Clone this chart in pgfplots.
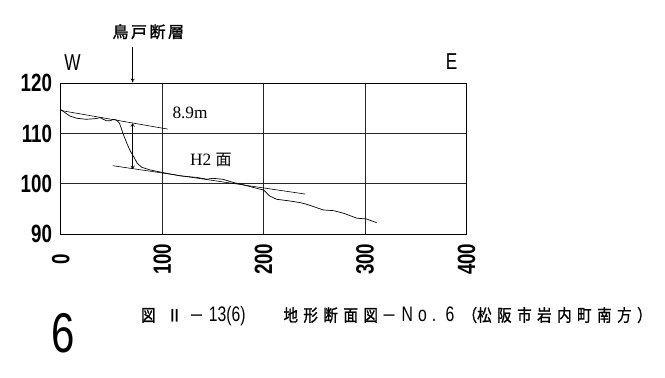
\documentclass[border=0pt]{standalone}
\usepackage{pgfplots}
\pgfplotsset{compat=1.18}
\usetikzlibrary{arrows.meta}
\usepackage{fontspec}
\setmainfont{Liberation Serif}
\newfontfamily\sansn[FakeStretch=0.75]{Liberation Sans}
\newfontfamily\cjk{Noto Sans CJK JP}
\newfontfamily\cjkb[FakeBold=1.5]{Noto Sans CJK JP}
\newfontfamily\cjkn[FakeStretch=0.85,FakeBold=1.2]{Noto Sans CJK JP}
\newcommand\K{\kern5.55pt }
\begin{document}
\begin{tikzpicture}
\useasboundingbox (0pt,0pt) rectangle (665pt,378pt);
\begin{axis}[
  at={(60.7pt,143.7pt)}, anchor=south west,
  scale only axis, width=405.8pt, height=151pt,
  xmin=0, xmax=400, ymin=90, ymax=120,
  xtick={0,100,200,300,400}, xticklabels={0,100,200,300,400},
  ytick={90,100,110,120}, yticklabels={90,100,110,120},
  grid=major, major grid style={black!85, line width=1pt},
  axis line style={black, line width=1pt},
  major tick length=0pt,
  yticklabel style={font=\sansn\bfseries\fontsize{25}{25}\selectfont, anchor=east, inner sep=0pt, xshift=-8.5pt},
  xticklabel style={font=\sansn\bfseries\fontsize{25}{25}\selectfont, yshift=-25pt, rotate=90, anchor=center, inner sep=0pt},
  clip=false,
]
\addplot[black, line width=0.7pt] coordinates {
(0,114.8) (4,114.2) (9,113.5) (16,113.05) (25,112.85) (34,112.97) (39,113.17)
(42,112.85) (45,112.57) (49,112.57) (52,112.85) (55,112.7) (58,112.05)
(62,109.7) (66,107.7) (69,106.4) (72,105.4) (75.5,104.1) (80,103.3) (88,102.8)
(101,102.25) (118,101.6) (134,101.3) (144,100.95) (150,101.12) (160,100.93)
(170,100.3) (177,100.0) (190,99.3) (200,98.8) (206,97.6) (213,96.95) (223,96.7)
(236,96.3) (242.5,95.96) (259,94.83) (269,94.7) (279,94.17) (292,93.2)
(301.6,93.04) (311.5,92.3)
};
\addplot[black, line width=0.6pt] coordinates {(0,114.6) (105.5,110.9)};
\addplot[black, line width=0.6pt] coordinates {(51.3,103.63) (240.8,98.0)};
\addplot[black, line width=0.6pt, {To[length=3.5pt,width=4pt]}-{To[length=3.5pt,width=4pt]}] coordinates {(70.9,112.05) (70.9,102.97)};
\node[font=\fontsize{17.3}{17.3}\selectfont, inner sep=0pt] at (axis cs:127.5,114.04) {8.9m};
\node[font=\fontsize{17.3}{17.3}\selectfont, inner sep=0pt] at (axis cs:148,104.76) {H2 {\cjk\fontsize{16}{16}\selectfont 面}};
\end{axis}
% fault label and arrow
\node[font=\cjkb\fontsize{16}{16}\selectfont, inner sep=0pt] at (148.3pt,346.3pt) {鳥\kern2.5pt 戸\kern2.5pt 断\kern2.5pt 層};
\draw[-{To[length=4pt,width=4pt]}, line width=0.6pt] (132.7pt,331.3pt) -- (132.7pt,295.5pt);
% W and E
\node[font=\sansn\fontsize{23}{23}\selectfont, inner sep=0pt] at (72.5pt,315pt) {W};
\node[font=\sansn\fontsize{23}{23}\selectfont, inner sep=0pt] at (451.7pt,316.3pt) {E};
% big number
\node[font=\sansn\fontsize{56}{56}\selectfont, inner sep=0pt] at (63.3pt,44.7pt) {6};
% caption
\begin{scope}[every node/.style={inner sep=0pt, anchor=base, font=\cjkn\fontsize{17}{17}\selectfont}]
\node at (148.3pt,56.5pt) {図};
\node at (174.5pt,56.5pt) {Ⅱ};
\node at (196.5pt,56.5pt) {－};
\node[font=\sansn\fontsize{21}{21}\selectfont] at (227.3pt,56.5pt) {13(6)};
\node[anchor=base west] at (283.3pt,56.5pt) {地\K 形\K 断\K 面\K 図};
\node at (389pt,56.5pt) {－};
\node[font=\sansn\fontsize{21}{21}\selectfont] at (419pt,56.5pt) {N\kern5pt o\kern5pt .};
\node[font=\sansn\fontsize{21}{21}\selectfont] at (450pt,56.5pt) {6};
\node[anchor=base west] at (462.5pt,56.5pt) {（松\K 阪\K 市\K 岩\K 内\K 町\K 南\K 方\K ）};
\end{scope}
\end{tikzpicture}
\end{document}
